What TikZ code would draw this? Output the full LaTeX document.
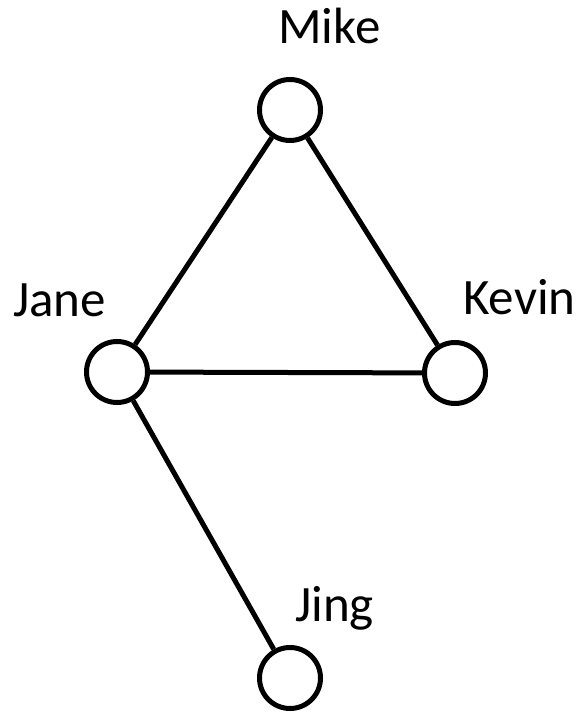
\documentclass[tikz,border=0pt]{standalone}
\usepackage{fontspec}
\setmainfont{Carlito}
\begin{document}
\begin{tikzpicture}[x=1bp, y=1bp,
    person/.style={circle, draw, line width=5bp, minimum size=61bp, inner sep=0pt, fill=white},
    nametext/.style={anchor=base west, inner sep=0pt, font=\fontsize{51bp}{60bp}\selectfont},
    tie/.style={line width=5bp}]
    \useasboundingbox (0, 0) rectangle (583, 712);

    % 人
    \node[person] (mike)  at (290, 602) {};
    \node[person] (jane)  at (117, 340) {};
    \node[person] (kevin) at (455, 339) {};
    \node[person] (jing)  at (290, 34) {};

    % 名字
    \node[nametext] (mikename)  at (278, 668) {Mike};
    \node[nametext] (janename)  at (13, 395) {Jane};
    \node[nametext] (kevinname) at (463, 397) {Kevin};
    \node[nametext] (jingname)  at (295, 90) {Jing};

    % 关系
    \draw[tie] (mike) -- (jane);
    \draw[tie] (mike) -- (kevin);
    \draw[tie] (jane) -- (kevin);
    \draw[tie] (jane) -- (jing);
\end{tikzpicture}
\end{document}
